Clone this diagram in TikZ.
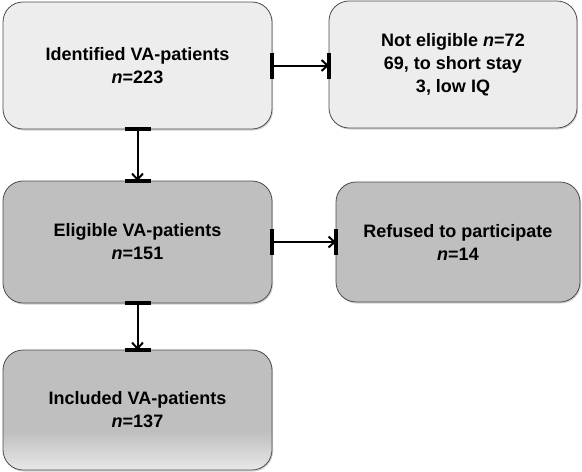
\documentclass[tikz,border=0pt]{standalone}
\usepackage{fontspec}
\setmainfont{Liberation Sans}
\usetikzlibrary{arrows.meta,shadows}
\pgfdeclareverticalshading{lowfade}{100bp}{color(0bp)=(black!9); color(25bp)=(black!9); color(41bp)=(black!25); color(100bp)=(black!25)}
\begin{document}
\begin{tikzpicture}[x=1pt,y=-1pt,
        box/.style={draw=black!70, line width=.8pt, rounded corners=20pt, inner sep=0pt, outer sep=0pt,
            align=center, font=\fontsize{18}{23}\selectfont\bfseries,
            drop shadow={shadow xshift=1pt, shadow yshift=-1.5pt, opacity=.35}},
        light/.style={box, fill=black!7},
        dark/.style={box, fill=black!25},
        flow/.style={draw=black, line width=2pt, arrows={-Straight Barb[length=6pt,width=11pt]}},
        stub/.style={line width=3.2pt}]
        \useasboundingbox (0,0) rectangle (582,472);
        % boxes
        \node[light, minimum width=269pt, minimum height=127pt] (ident) at (137.5,65.5) {Identified VA-patients\\\textit{n}=223};
        \node[light, minimum width=248pt, minimum height=127pt] (noteli) at (453,64.5) {Not eligible \textit{n}=72\\69, to short stay\\3, low IQ};
        \node[dark, minimum width=269pt, minimum height=122pt] (elig) at (137.5,242) {Eligible VA-patients\\\textit{n}=151};
        \node[dark, minimum width=244pt, minimum height=120pt] (refused) at (458,242) {Refused to participate\\\textit{n}=14};
        \node[box, shade, shading=lowfade, minimum width=269pt, minimum height=120pt] (incl) at (137.5,410) {Included VA-patients\\\textit{n}=137};
        % sideways
        \foreach \s/\t in {ident/noteli, elig/refused} {
            \coordinate (\t-in) at (\s.east -| \t.west);
            \draw[stub] ([yshift=13pt]\s.east) -- ([yshift=-13pt]\s.east);
            \draw[stub] ([yshift=13pt]\t-in) -- ([yshift=-13pt]\t-in);
            \draw[flow] (\s.east) -- (\t-in);
        }
        % downwards
        \foreach \s/\t in {ident/elig, elig/incl} {
            \draw[stub] ([xshift=-13pt]\s.south) -- ([xshift=13pt]\s.south);
            \draw[stub] ([xshift=-13pt]\t.north) -- ([xshift=13pt]\t.north);
            \draw[flow] (\s.south) -- (\t.north);
        }
    \end{tikzpicture}
\end{document}
